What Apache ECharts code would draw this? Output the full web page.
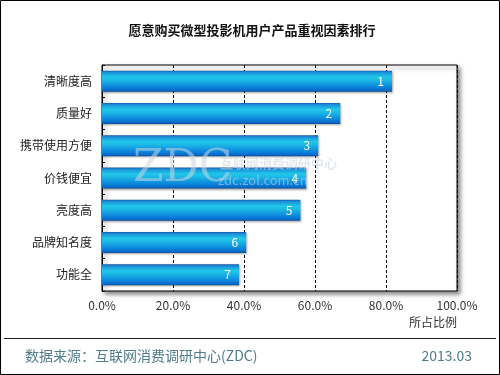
<!DOCTYPE html>
<html><head><meta charset="utf-8">
<script src="https://cdn.jsdelivr.net/npm/echarts@6/dist/echarts.min.js"></script>
<style>html,body{margin:0;padding:0;background:#fff}#c{width:500px;height:375px}</style>
</head><body><div id="c"></div>
<script>
const categories = ['清晰度高','质量好','携带使用方便','价钱便宜','亮度高','品牌知名度','功能全'];
const values = [81.7, 67.1, 60.9, 57.5, 55.9, 40.6, 38.6];
const ranks = ['1','2','3','4','5','6','7'];
const xTicks = [0, 20, 40, 60, 80, 100];

const chart = echarts.init(document.getElementById('c'), null, {renderer:'canvas'});
const font = '"Noto Sans CJK SC", "DejaVu Sans", sans-serif';
chart.setOption({
  animation:false,
  backgroundColor:'#fff',
  title:{text:'愿意购买微型投影机用户产品重视因素排行', left:247, top:19, textAlign:'center',
    textStyle:{fontSize:13, fontWeight:'bold', color:'#111', fontFamily:font}},
  grid:{left:102, right:43, top:65, bottom:84, show:true, borderColor:'#000', borderWidth:1,
    backgroundColor:'#fff', shadowBlur:4, shadowColor:'rgba(0,0,0,0.45)', shadowOffsetX:3, shadowOffsetY:3},
  xAxis:{type:'value', min:0, max:100, interval:20,
    name:'所占比例', nameLocation:'end', nameGap:0,
    nameTextStyle:{fontSize:12, color:'#333', fontFamily:font, align:'right', verticalAlign:'top', padding:[25,0,0,0]},
    axisLine:{show:false}, axisTick:{show:false},
    axisLabel:{margin:8, fontSize:12, color:'#333', fontFamily:font,
      formatter:v=> xTicks.includes(v) ? v.toFixed(1)+'%' : ''},
    splitLine:{show:true, lineStyle:{color:'#000', type:[3,2], width:1}}},
  yAxis:{type:'category', data:categories, inverse:true,
    axisLine:{show:true, lineStyle:{color:'#000'}},
    axisTick:{show:true, inside:true, length:3, lineStyle:{color:'#000'}},
    axisLabel:{margin:10, fontSize:12, color:'#222', fontFamily:font}},
  series:[{type:'bar', data:values, barWidth:21,
    itemStyle:{
      color:new echarts.graphic.LinearGradient(0,0,0,1,[
        {offset:0,color:'#1a58a8'},{offset:0.08,color:'#1a8fd8'},{offset:0.3,color:'#22c6ea'},
        {offset:0.45,color:'#1cb8e6'},{offset:0.8,color:'#0a82dc'},{offset:0.94,color:'#0868c8'},{offset:1,color:'#0a4a90'}]),
      shadowBlur:2, shadowColor:'rgba(0,0,0,0.35)', shadowOffsetX:1, shadowOffsetY:1},
    label:{show:true, position:'insideRight', distance:8, color:'#fff', fontSize:12, fontFamily:font,
      formatter:p=>ranks[p.dataIndex]}
  }],
  graphic:[
    {type:'rect', shape:{x:0.5,y:0.5,width:499,height:374}, style:{fill:'none', stroke:'#000', lineWidth:1}, z:100},
    {type:'line', shape:{x1:4,y1:338.5,x2:496,y2:338.5}, style:{stroke:'#222', lineWidth:1}, z:100},
    {type:'text', left:25, top:349, style:{text:'数据来源：互联网消费调研中心(ZDC)', fontSize:14, fill:'#4f7d8c', fontFamily:font}, z:100},
    {type:'text', right:28, top:349, style:{text:'2013.03', fontSize:14, fill:'#4f7d8c', fontFamily:font}, z:100},
    {type:'text', left:133, top:148, style:{text:'ZDC', fontSize:44, fill:'rgba(200,215,225,0.55)', fontFamily:'"DejaVu Serif", serif'}, z:100},
    {type:'text', left:220, top:157, style:{text:'互联网消费调研中心', fontSize:13, fontWeight:'bold', fill:'rgba(200,215,225,0.55)', fontFamily:font}, z:100},
    {type:'text', left:218, top:174, style:{text:'zdc.zol.com.cn', fontSize:13, fill:'rgba(200,215,225,0.55)', fontFamily:font}, z:100}
  ]
});
</script></body></html>
